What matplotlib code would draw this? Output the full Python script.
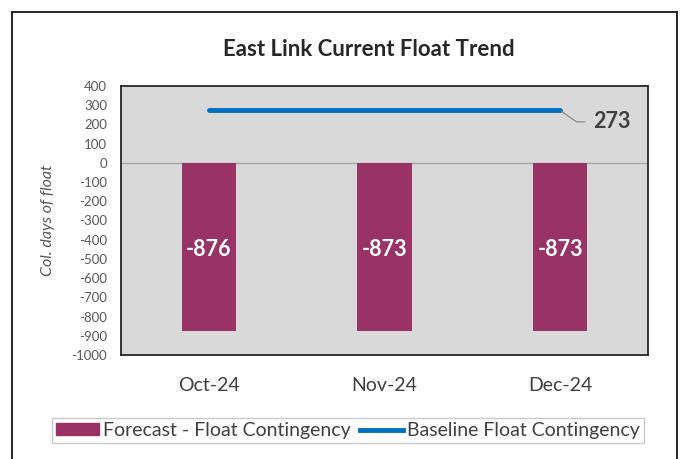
import matplotlib
matplotlib.use("Agg")
import matplotlib.pyplot as plt
from matplotlib.patches import Rectangle
from matplotlib.lines import Line2D

months = ["Oct-24", "Nov-24", "Dec-24"]
forecast_float = [-876, -873, -873]
baseline_float = [273, 273, 273]
y_ticks = list(range(-1000, 401, 100))

BAR_COLOR = "#993366"
LINE_COLOR = "#0070C0"
TEXT_GRAY = "#595959"

plt.rcParams["font.family"] = ["Lato", "DejaVu Sans"]

fig = plt.figure(figsize=(6.89, 4.59), dpi=100)
W, H = 689, 459

# outer chart frame
fig.patches.append(Rectangle((12 / W, -0.05), 665 / W, 1.05 - 12 / H,
                             transform=fig.transFigure, fill=False,
                             edgecolor="#262626", linewidth=1.4))

ax = fig.add_axes([121 / W, 1 - 355 / H, (648 - 121) / W, (355 - 86) / H])
ax.set_facecolor("#D9D9D9")

x = list(range(len(months)))
ax.bar(x, forecast_float, width=0.31, color=BAR_COLOR, zorder=2)
ax.plot(x, baseline_float, color=LINE_COLOR, linewidth=3.5,
        solid_capstyle="round", zorder=3)
ax.axhline(0, color="#A6A6A6", linewidth=1, zorder=1)

for xi, v in zip(x, forecast_float):
    ax.text(xi, v / 2 - 15, str(v), color="white", fontsize=15.5,
            fontweight="bold", ha="center", va="center", zorder=4)

# label for the baseline with a leader line
ax.annotate(str(baseline_float[-1]), xy=(x[-1], baseline_float[-1]),
            xytext=(x[-1] + 0.19, baseline_float[-1] - 60),
            fontsize=15.5, color="#404040", fontweight="bold",
            ha="left", va="center",
            arrowprops=dict(arrowstyle="-", color="#808080", lw=0.8,
                            connectionstyle="angle,angleA=0,angleB=-35,rad=0",
                            shrinkA=4, shrinkB=1))

ax.set_xlim(-0.5, 2.5)
ax.set_ylim(-1000, 400)
ax.set_yticks(y_ticks)
ax.set_yticklabels([str(t) for t in y_ticks], fontsize=9.5, color=TEXT_GRAY)
ax.set_xticks(x)
ax.set_xticklabels(months, fontsize=14, color="#404040")
ax.tick_params(axis="both", length=0)
ax.tick_params(axis="x", pad=16)
ax.tick_params(axis="y", pad=10)
for s in ax.spines.values():
    s.set_color("#262626")
    s.set_linewidth(1.3)

ax.set_ylabel("Col. days of float", fontsize=11.5, style="italic",
              color=TEXT_GRAY, labelpad=12)

fig.text(369 / W, 1 - 50 / H, "East Link Current Float Trend",
         ha="center", va="center", fontsize=16, fontweight="bold",
         color="#262626")

handles = [Rectangle((0, 0), 1, 1, color=BAR_COLOR),
           Line2D([0], [0], color=LINE_COLOR, linewidth=3.5)]
leg = fig.legend(handles, ["Forecast - Float Contingency",
                           "Baseline Float Contingency"],
                 loc="center", bbox_to_anchor=(348 / W, 1 - 430.5 / H),
                 ncol=2, fontsize=14, frameon=True, fancybox=False,
                 handlelength=2.2, handleheight=0.55, handletextpad=0.2,
                 columnspacing=0.5, borderpad=0.2)
leg.get_frame().set_edgecolor("#BFBFBF")
leg.get_frame().set_linewidth(1)
for t in leg.get_texts():
    t.set_color("#404040")

fig.savefig("out.png", dpi=100)
